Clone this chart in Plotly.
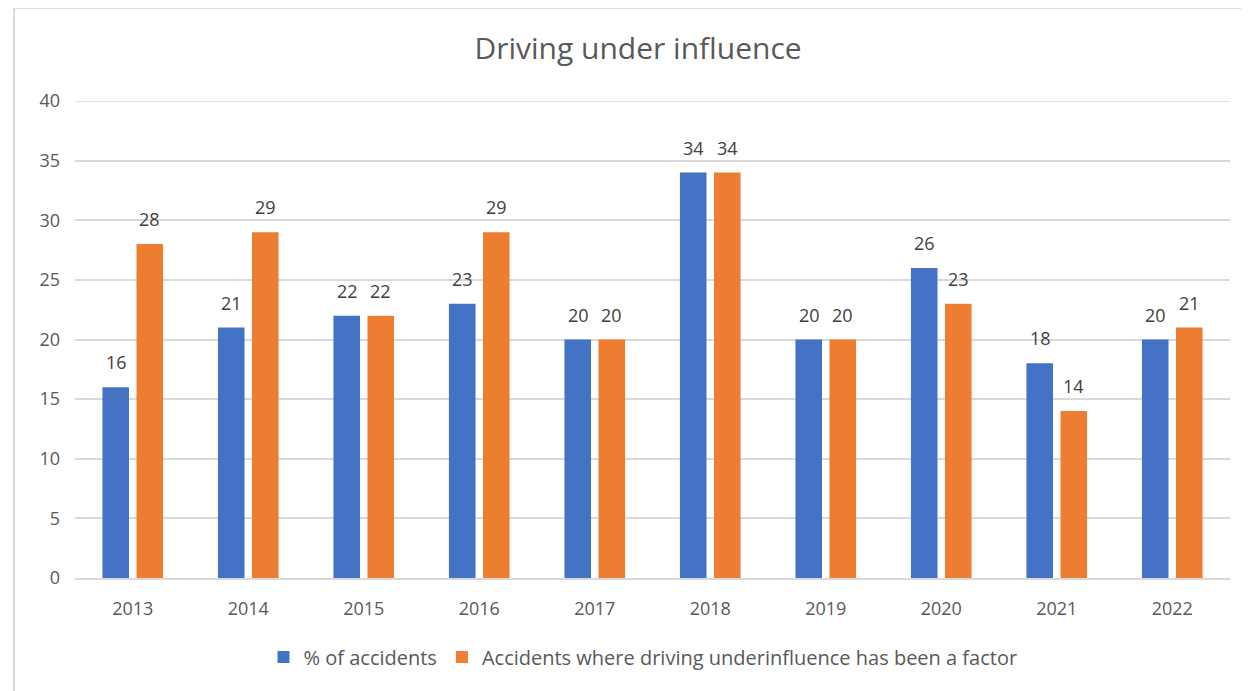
import plotly.graph_objects as go

years = ["2013", "2014", "2015", "2016", "2017", "2018", "2019", "2020", "2021", "2022"]
pct_accidents = [16, 21, 22, 23, 20, 34, 20, 26, 18, 20]
dui_factor = [28, 29, 22, 29, 20, 34, 20, 23, 14, 21]
series_names = ["% of accidents", "Accidents where driving underinfluence has been a factor"]
y_ticks = [0, 5, 10, 15, 20, 25, 30, 35, 40]

OFF = 8  # page body margin
W, H = 1249 - OFF, 691 - OFF
L, R = 75 - OFF, 1249 - 1230
T = 101 - OFF
B = 691 - 578
pw, ph = W - L - R, H - T - B

def px_x(x):
    return (x - OFF - L) / pw

def px_y(y):
    return (H - B - (y - OFF)) / ph

FONT = "Open Sans, sans-serif"
BAR_SHIFT = 16.75

fig = go.Figure()
fig.add_trace(go.Bar(x=years, y=pct_accidents, name=series_names[0],
                     marker=dict(color="#4472C4", line=dict(width=0))))
fig.add_trace(go.Bar(x=years, y=dui_factor, name=series_names[1],
                     marker=dict(color="#ED7D31", line=dict(width=0))))

# data labels (x given as category index)
for vals, shift in ((pct_accidents, -BAR_SHIFT), (dui_factor, BAR_SHIFT)):
    for i, v in enumerate(vals):
        fig.add_annotation(x=i, y=v, xref="x", yref="y", text=str(v), showarrow=False,
                           xshift=shift, yshift=11, yanchor="bottom", xanchor="center",
                           font=dict(color="#404040", size=18, family=FONT))

fig.update_layout(
    width=W, height=H,
    margin=dict(l=L, r=R, t=T, b=B, autoexpand=False),
    paper_bgcolor="white", plot_bgcolor="white",
    font=dict(family=FONT, color="#595959", size=18),
    title=dict(text="Driving under influence", x=(638 - OFF) / W, xanchor="center",
               y=1 - (48 - OFF) / H, yanchor="middle",
               font=dict(size=30, color="#595959")),
    barmode="group", bargap=0.41, bargroupgap=0.22,
    showlegend=True,
    legend=dict(orientation="h", x=px_x(643 + OFF - 8 + 0) if False else (643 - 75) / 1155,
                xanchor="center", y=px_y(657), yanchor="middle",
                font=dict(size=20, color="#595959"), itemwidth=30,
                traceorder="normal"),
    xaxis=dict(type="category", range=[-0.5, len(years) - 0.5],
               showgrid=False, showline=True, linecolor="#D9D9D9", linewidth=1.5,
               ticks="", ticklabelstandoff=14, tickfont=dict(size=18, color="#595959")),
    yaxis=dict(range=[0, 40], tickvals=y_ticks,
               showgrid=True, gridcolor="#D9D9D9", gridwidth=1.5,
               zeroline=False, showline=False, ticks="", ticklabelstandoff=14,
               tickfont=dict(size=18, color="#595959")),
)

# top gridline (at the range edge, which plotly does not draw)
fig.add_shape(type="line", xref="paper", yref="y", x0=0, x1=1, y0=y_ticks[-1], y1=y_ticks[-1],
              line=dict(color="#D9D9D9", width=1.5), layer="below")

fig.add_shape(type="rect", xref="paper", yref="paper",
              x0=px_x(14), x1=px_x(1262), y0=px_y(700), y1=px_y(8),
              line=dict(color="#D9D9D9", width=2), fillcolor="rgba(0,0,0,0)", layer="below")

fig.write_html("out.html")
